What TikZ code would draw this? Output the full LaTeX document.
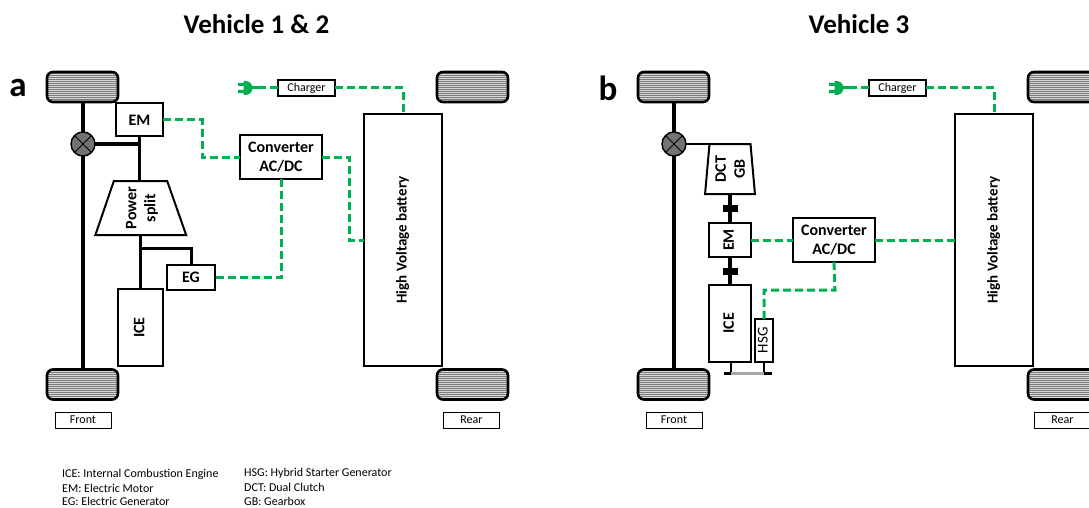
\documentclass[tikz,border=0pt]{standalone}
\usepackage{fontspec}
\setmainfont{Carlito}
\usetikzlibrary{shapes.geometric,calc}
\definecolor{hvgreen}{HTML}{00B050}
\newcommand{\rotlab}[1]{\rotatebox{90}{\begin{tabular}{@{}c@{}}#1\end{tabular}}}
\newcommand{\rotlabs}[1]{\hspace*{3pt}\rotlab{#1}}
\tikzset{
  x=1pt,y=-1pt,
  wheel/.style={draw=black,line width=2.6pt,rounded corners=6pt,fill=white,minimum width=71pt,minimum height=30pt,inner sep=0pt,outer sep=0pt,
    path picture={\fill[black!52] (path picture bounding box.south west) rectangle (path picture bounding box.north east);
      \foreach \k in {1,...,14}{\draw[white!85!black,line width=0.8pt] ($(path picture bounding box.north west)+(0,-2*\k pt)$) -- ++(80pt,0);}}},
  box/.style={draw=black,line width=2pt,fill=white,inner sep=0pt,outer sep=0pt,font=\fontsize{16}{19}\selectfont\bfseries,align=center},
  battery/.style={box,minimum width=78pt,minimum height=252pt,font=\fontsize{15}{18}\selectfont\bfseries},
  tag/.style={draw=black,line width=1pt,fill=white,inner sep=0pt,outer sep=0pt,minimum width=56pt,minimum height=16pt,font=\fontsize{12}{14}\selectfont},
  chargertag/.style={tag,line width=1.5pt,minimum width=57pt},
  trap/.style={trapezium,draw=black,line width=2pt,fill=white,inner sep=0pt,outer sep=0pt,trapezium stretches=true,font=\fontsize{16}{19}\selectfont\bfseries},
  diffn/.style={circle,draw=black,line width=1.4pt,fill=black!55,minimum size=24pt,inner sep=0pt,outer sep=0pt,
    path picture={\draw[black,line width=1pt] (path picture bounding box.south west)--(path picture bounding box.north east) (path picture bounding box.north west)--(path picture bounding box.south east);}},
  axle/.style={line width=4pt,draw=black},
  shaft/.style={line width=3.4pt,draw=black},
  hv/.style={draw=hvgreen,line width=3pt,dash pattern=on 8pt off 4pt},
  clutch/.style={fill=black,minimum width=15pt,minimum height=7.5pt,inner sep=0pt,outer sep=0pt},
  title/.style={font=\fontsize{27}{30}\selectfont\bfseries},
  panel/.style={font=\fontsize{35}{38}\selectfont\bfseries},
  legend/.style={font=\fontsize{12}{14}\selectfont,anchor=west,inner sep=0pt},
  plug/.style={fill=hvgreen,draw=none}
}
\begin{document}
\begin{tikzpicture}
\useasboundingbox (0,0) rectangle (1089,508);
\clip (0,0) rectangle (1089,508);
% titles
\node[title] (t1) at (256.5,24) {Vehicle 1 \& 2};
\node[title] (t2) at (859,24) {Vehicle 3};
\node[panel] (la) at (18,88) {a};
\node[panel] (lb) at (608,88) {b};
% ---------- panel a
\node[wheel] (wa1) at (82.5,87) {};
\node[wheel] (wa2) at (82.5,384.5) {};
\node[wheel] (wa3) at (472.5,87) {};
\node[wheel] (wa4) at (472.5,384.5) {};
\draw[axle] (wa1.south) -- (wa2.north);
\node[diffn] (da) at (83,144) {};
\node[box,minimum width=47pt,minimum height=33pt] (ema) at (139.5,120) {EM};
\node[trap,trapezium left angle=71.5,trapezium right angle=71,minimum width=91pt,minimum height=54pt] (psa) at (140.5,208) {\rotlabs{Power\\split}};
\node[box,minimum width=45pt,minimum height=77pt] (icea) at (140.5,327.5) {\rotlab{ICE}};
\node[box,minimum width=48pt,minimum height=25pt] (ega) at (191,277.5) {EG};
\node[box,minimum width=82pt,minimum height=44pt] (cva) at (281,157) {Converter\\AC/DC};
\node[battery] (bata) at (403,240) {\rotlab{High Voltage battery}};
\node[chargertag] (cha) at (306.5,88) {Charger};
\coordinate (pa) at (258,88);
\coordinate (shaftja) at (140.5,248);
\draw[shaft] (da.east) -- (da.east -| ema.south);
\draw[shaft,line width=3pt] (ema.south) -- (psa.north -| ema.south);
\draw[shaft,line width=3pt] (psa.south) -- (icea.north);
\draw[shaft,line width=3pt] (shaftja) -| (ega.north);
\draw[hv] (ema.east) -- (202,120) |- (cva.west);
\draw[hv] (cva.east) -- (349,157) |- (bata.west);
\draw[hv] (cva.south) |- (ega.east);
\draw[hv] (cha.east) -| (bata.north);
\draw[hv] (pa) -- (cha.west);
\fill[plug] (243.5,81) -- (245.5,81) arc[start angle=90,end angle=-90,radius=7pt] -- (243.5,95) -- cycle;
\fill[plug] (238,82.8) rectangle (244,86) (238,90) rectangle (244,93.2);
\draw[hvgreen,line width=3pt] (250,88) -- (pa);
\node[tag] (fa) at (83,420) {Front};
\node[tag] (ra) at (471.5,420) {Rear};
% ---------- panel b
\node[wheel] (wb1) at (673.5,87) {};
\node[wheel] (wb2) at (673.5,384.5) {};
\node[wheel] (wb3) at (1063.5,87) {};
\node[wheel] (wb4) at (1063.5,384.5) {};
\draw[axle] (wb1.south) -- (wb2.north);
\node[diffn] (db) at (674,144) {};
\node[trap,trapezium left angle=80.5,trapezium right angle=80.5,minimum width=48pt,minimum height=50pt] (gbb) at (730,169) {\rotlabs{DCT\\GB}};
\node[box,minimum width=42pt,minimum height=34.5pt] (emb) at (730,240) {\rotlab{EM}};
\node[box,minimum width=42pt,minimum height=76.5pt] (iceb) at (730,323.3) {\rotlab{ICE}};
\node[box,minimum width=18pt,minimum height=42.5pt,font=\fontsize{15}{18}\selectfont] (hsgb) at (764,340.3) {\rotlab{HSG}};
\node[box,minimum width=82pt,minimum height=44pt] (cvb) at (834,240) {Converter\\AC/DC};
\node[battery] (batb) at (994,240) {\rotlab{High Voltage battery}};
\node[chargertag] (chb) at (897.5,88) {Charger};
\coordinate (pb) at (849,88);
\coordinate (fl) at (731,361.6);
\coordinate (fr) at (764,361.6);
\coordinate (ftl) at (731,373.7);
\coordinate (ftr) at (764,373.7);
\draw[line width=2.8pt] (db.east) -- (gbb.north);
\draw[shaft] (gbb.south) -- (emb.north);
\draw[shaft] (emb.south) -- (iceb.north);
\node[clutch] (c1) at (730.5,208.5) {};
\node[clutch] (c2) at (730.5,271.5) {};
\draw[line width=2.8pt] (fl) -- (ftl);
\draw[line width=2.8pt] (fr) -- (ftr);
\draw[gray!70,line width=3.2pt] (ftl) -- (ftr);
\draw[line width=3.2pt] (724,373.7) -- (ftl);
\draw[line width=3.2pt] (ftr) -- (772,373.7);
\draw[hv] (emb.east) -- (cvb.west);
\draw[hv] (cvb.east) -- (batb.west);
\draw[hv] (cvb.south) -- (835,290) -| (hsgb.north);
\draw[hv] (chb.east) -| (batb.north);
\draw[hv] (pb) -- (chb.west);
\fill[plug] (834.5,81) -- (836.5,81) arc[start angle=90,end angle=-90,radius=7pt] -- (834.5,95) -- cycle;
\fill[plug] (829,82.8) rectangle (835,86) (829,90) rectangle (835,93.2);
\draw[hvgreen,line width=3pt] (841,88) -- (pb);
\node[tag] (fb) at (674,420) {Front};
\node[tag] (rb) at (1062.5,420) {Rear};
% legend
\node[legend] (l1) at (62,474) {ICE: Internal Combustion Engine};
\node[legend] (l2) at (62,488) {EM: Electric Motor};
\node[legend] (l3) at (62,501.5) {EG: Electric Generator};
\node[legend] (l4) at (244,473) {HSG: Hybrid Starter Generator};
\node[legend] (l5) at (244,487) {DCT: Dual Clutch};
\node[legend] (l6) at (244,501.5) {GB: Gearbox};
\end{tikzpicture}
\end{document}
